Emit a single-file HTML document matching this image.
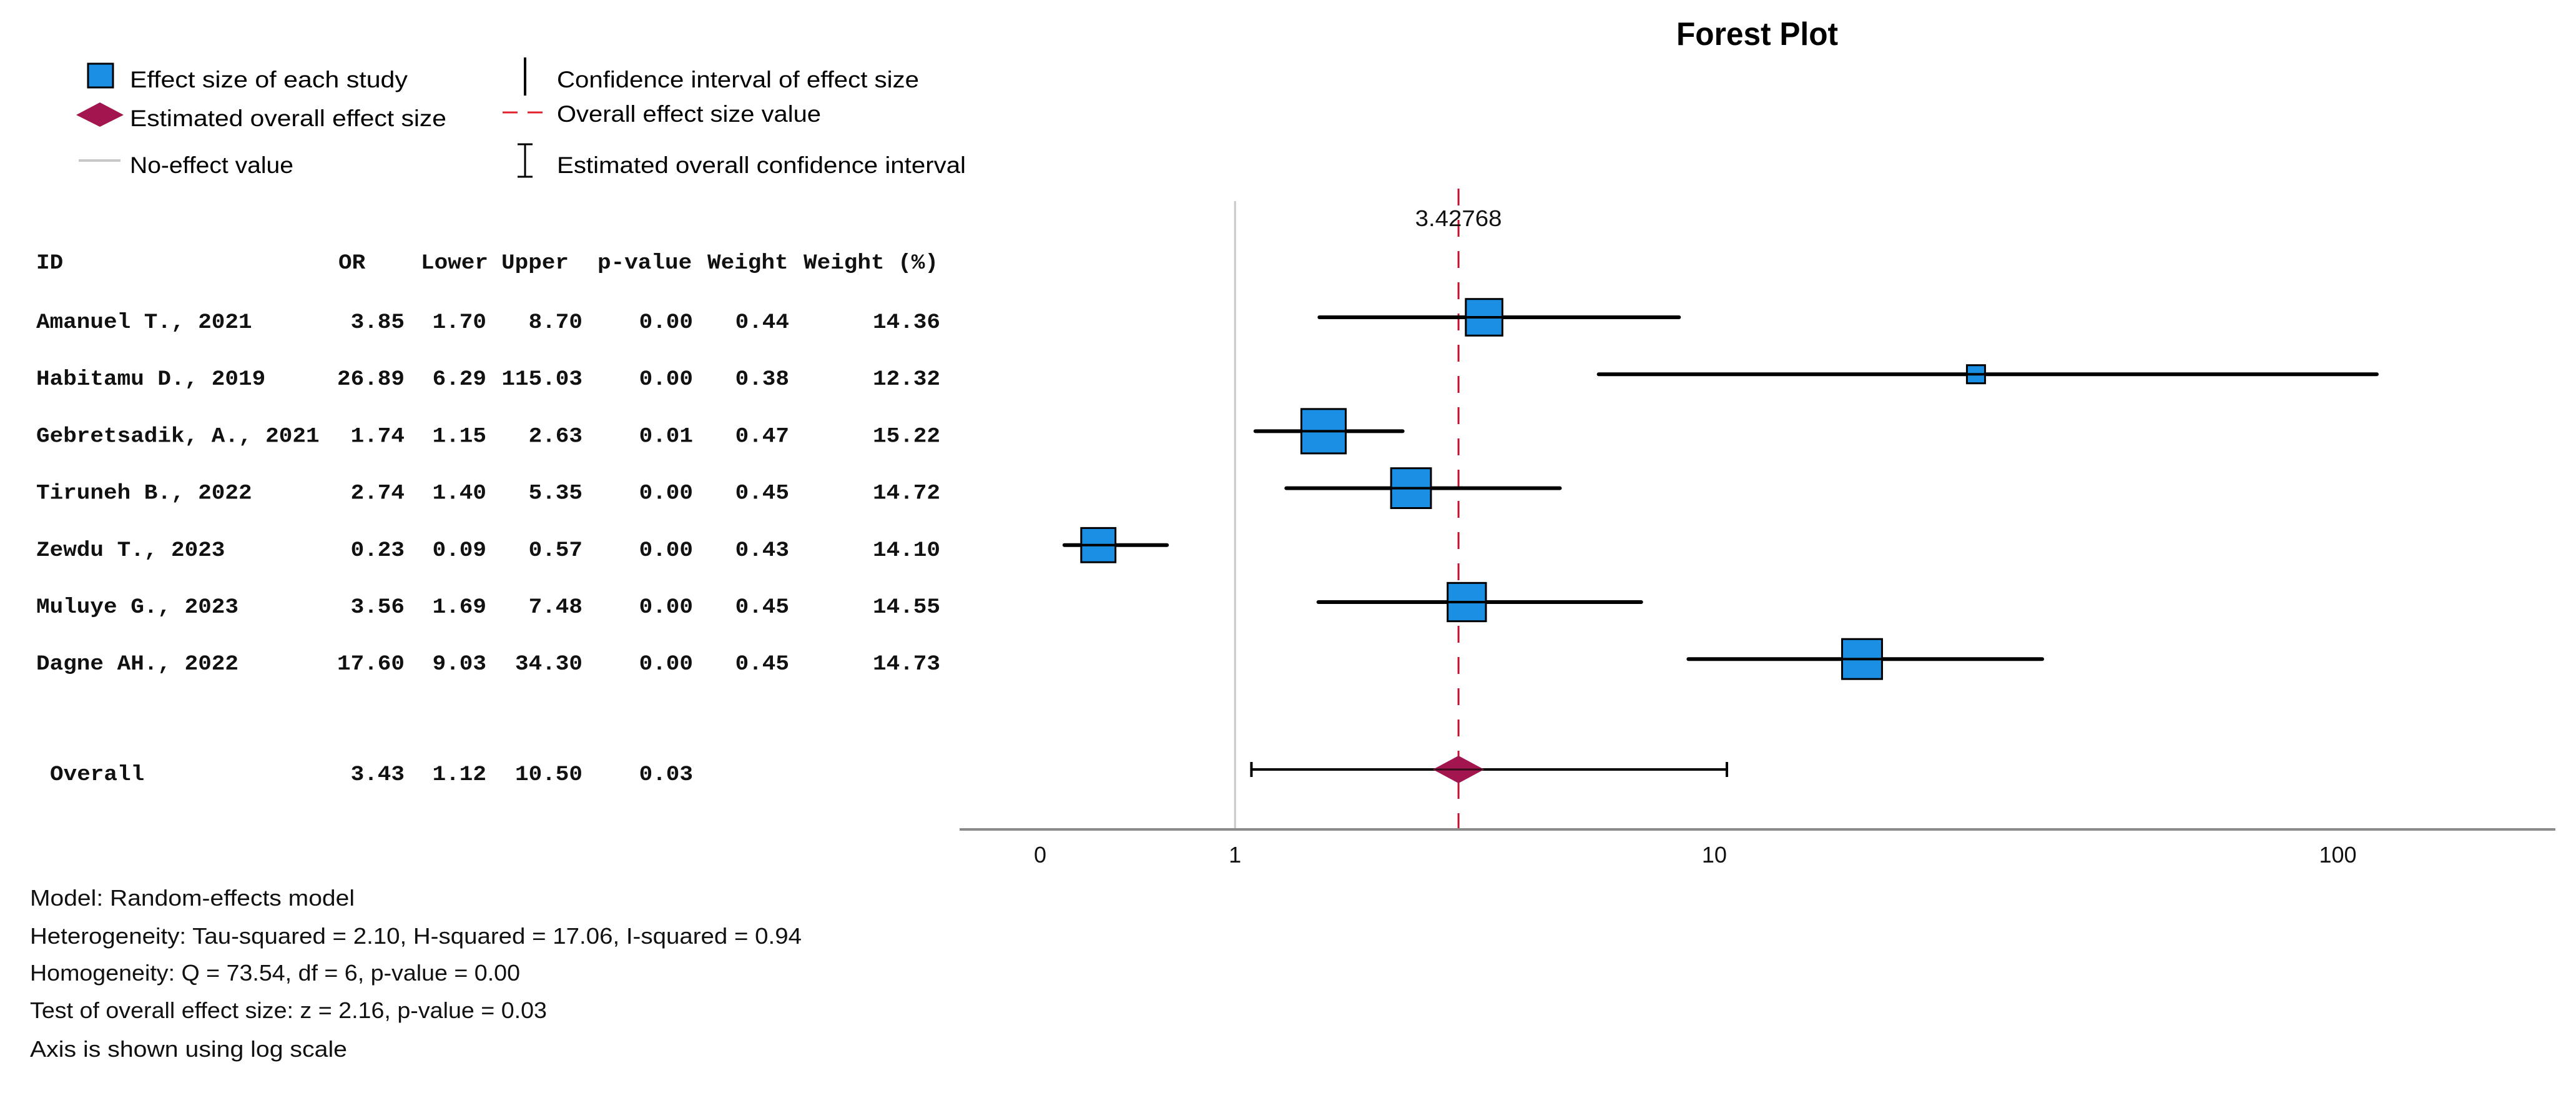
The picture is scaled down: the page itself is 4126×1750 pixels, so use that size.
<!DOCTYPE html>
<html><head><meta charset="utf-8"><style>
html,body{margin:0;padding:0;background:#fff;}
svg{display:block;}
.sans{font-family:"Liberation Sans",sans-serif;}
.mono{font-family:"Liberation Mono",monospace;font-size:34px;fill:#111;font-weight:bold;}
</style></head><body>
<svg id="chart" width="4126" height="1750" viewBox="0 0 4126 1750" xmlns="http://www.w3.org/2000/svg">
<rect x="0" y="0" width="4126" height="1750" fill="#fff"/>
<text class="sans" x="2685" y="72" font-size="52" font-weight="bold" textLength="259" lengthAdjust="spacingAndGlyphs">Forest Plot</text>

<g class="sans" font-size="37">
  <g>
    <rect x="141" y="102" width="40" height="38" fill="#1a8fe3" stroke="#000" stroke-width="3"/>
    <text x="208" y="140" textLength="445" lengthAdjust="spacingAndGlyphs">Effect size of each study</text>
  </g>
  <g>
    <polygon points="122,184 160,164 198,184 160,203" fill="#a3154e"/>
    <text x="208" y="202" textLength="507" lengthAdjust="spacingAndGlyphs">Estimated overall effect size</text>
  </g>
  <g>
    <line x1="126" y1="257" x2="193" y2="257" stroke="#c8c8c8" stroke-width="4"/>
    <text x="208" y="277" textLength="262" lengthAdjust="spacingAndGlyphs">No-effect value</text>
  </g>
  <g>
    <line x1="841" y1="92" x2="841" y2="153" stroke="#000" stroke-width="4"/>
    <text x="892" y="140" textLength="580" lengthAdjust="spacingAndGlyphs">Confidence interval of effect size</text>
  </g>
  <g>
    <line x1="805" y1="180" x2="874" y2="180" stroke="#e0202a" stroke-width="3" stroke-dasharray="24,16"/>
    <text x="892" y="195" textLength="423" lengthAdjust="spacingAndGlyphs">Overall effect size value</text>
  </g>
  <g>
    <line x1="841" y1="231" x2="841" y2="283" stroke="#000" stroke-width="3"/>
    <line x1="829" y1="231" x2="853" y2="231" stroke="#000" stroke-width="3"/>
    <line x1="829" y1="283" x2="853" y2="283" stroke="#000" stroke-width="3"/>
    <text x="892" y="277" textLength="655" lengthAdjust="spacingAndGlyphs">Estimated overall confidence interval</text>
  </g>
</g>

<g id="table"></g>
<g id="plot"></g>

<g class="sans" font-size="36" fill="#111">
  <text x="48" y="1450" textLength="520" lengthAdjust="spacingAndGlyphs">Model: Random-effects model</text>
  <text x="48" y="1511" textLength="1236" lengthAdjust="spacingAndGlyphs">Heterogeneity: Tau-squared = 2.10, H-squared = 17.06, I-squared = 0.94</text>
  <text x="48" y="1570" textLength="785" lengthAdjust="spacingAndGlyphs">Homogeneity: Q = 73.54, df = 6, p-value = 0.00</text>
  <text x="48" y="1630" textLength="828" lengthAdjust="spacingAndGlyphs">Test of overall effect size: z = 2.16, p-value = 0.03</text>
  <text x="48" y="1692" textLength="508" lengthAdjust="spacingAndGlyphs">Axis is shown using log scale</text>
</g>
</svg>
<script>
const studies = ["Amanuel T., 2021","Habitamu D., 2019","Gebretsadik, A., 2021","Tiruneh B., 2022","Zewdu T., 2023","Muluye G., 2023","Dagne AH., 2022"];
const orValues = [3.85, 26.89, 1.74, 2.74, 0.23, 3.56, 17.60];
const lowerValues = [1.70, 6.29, 1.15, 1.40, 0.09, 1.69, 9.03];
const upperValues = [8.70, 115.03, 2.63, 5.35, 0.57, 7.48, 34.30];
const pValues = [0.00, 0.00, 0.01, 0.00, 0.00, 0.00, 0.00];
const weights = [0.44, 0.38, 0.47, 0.45, 0.43, 0.45, 0.45];
const weightPct = [14.36, 12.32, 15.22, 14.72, 14.10, 14.55, 14.73];
const overallOR = 3.42768;
const overallLower = 1.12;
const overallUpper = 10.50;
const overallP = 0.03;
const tickValues = [0, 1, 10, 100];
const tickLabels = ["0", "1", "10", "100"];

const NS = "http://www.w3.org/2000/svg";
function mk(tag, attrs, parent){const e=document.createElementNS(NS,tag);for(const k in attrs)e.setAttribute(k,attrs[k]);parent.appendChild(e);return e;}
function xScale(v){return 1666 + 1037*Math.log10(1+v);}
function rowY(i){return 508 + i*91.2;}
const overallY = 1232;
function sizeOf(p){return 29 + (p-12.32)*14.5;}

const plot = document.getElementById('plot');
const table = document.getElementById('table');

const ax = mk('line',{x1:1537,y1:1328,x2:4093,y2:1328,stroke:'#8a8a8a','stroke-width':4},plot);


tickValues.forEach((v,i)=>{
  const t = mk('text',{x:xScale(v),y:1381,'font-size':36,'text-anchor':'middle','class':'sans',fill:'#111'},plot);
  
  
  t.textContent = tickLabels[i];
});
const ne = mk('line',{x1:xScale(1),y1:322,x2:xScale(1),y2:1326,stroke:'#c8c8c8','stroke-width':3},plot);


const ol = mk('line',{x1:xScale(overallOR),y1:302,x2:xScale(overallOR),y2:1326,stroke:'#c8102e','stroke-width':3,'stroke-dasharray':'27,23'},plot);


const olab = mk('text',{x:xScale(overallOR),y:362,'font-size':36,'text-anchor':'middle','class':'sans',fill:'#111',textLength:139,lengthAdjust:'spacingAndGlyphs'},plot);


olab.textContent = String(overallOR);

studies.forEach((s,i)=>{
  const y=rowY(i);
  const ci = mk('line',{x1:xScale(lowerValues[i]),y1:y,x2:xScale(upperValues[i]),y2:y,stroke:'#000','stroke-width':6,'stroke-linecap':'round'},plot);
  
  
  const sz=sizeOf(weightPct[i]);
  const sq = mk('rect',{x:xScale(orValues[i])-sz/2,y:y-sz/2,width:sz,height:sz,fill:'#1a8fe3',stroke:'#000','stroke-width':3},plot);
  
  
  mk('line',{x1:xScale(orValues[i])-sz/2,y1:y,x2:xScale(orValues[i])+sz/2,y2:y,stroke:'#000','stroke-width':4},plot);
});
const oc = mk('line',{x1:xScale(overallLower),y1:overallY,x2:xScale(overallUpper),y2:overallY,stroke:'#000','stroke-width':4},plot);


[overallLower,overallUpper].forEach(v=>{
  const c = mk('line',{x1:xScale(v),y1:overallY-12,x2:xScale(v),y2:overallY+12,stroke:'#000','stroke-width':4},plot);
  
  
});
const cx=xScale(overallOR);
const dm = mk('polygon',{points:`${cx-41},${overallY} ${cx},${overallY-22} ${cx+41},${overallY} ${cx},${overallY+22}`,fill:'#a3154e'},plot);


mk('line',{x1:cx-38,y1:overallY,x2:cx+38,y2:overallY,stroke:'#3a0a1c','stroke-width':3},plot);

const colEnds=[648,779,933,1110,1264,1506];
const headers=[["ID",58,'start'],["OR",542,'start'],["Lower",674,'start'],["Upper",803,'start'],["p-value",957,'start'],["Weight",1133,'start'],["Weight (%)",1287,'start']];
function txt(str,x,y,anchor,name){
  const t=mk('text',{x:x,y:y,'text-anchor':anchor,'class':'mono','textLength':str.length*21.6,'lengthAdjust':'spacingAndGlyphs'},table);
  
  
  t.textContent=str;
}
headers.forEach(h=>txt(h[0],h[1],430,h[2],'table-header'));
studies.forEach((s,i)=>{
  const y=rowY(i)+17;
  txt(s,58,y,'start','study-id');
  const vals=[orValues[i],lowerValues[i],upperValues[i],pValues[i],weights[i],weightPct[i]];
  vals.forEach((v,j)=>txt(v.toFixed(2),colEnds[j],y,'end','table-cell'));
});
txt("Overall",80,overallY+17,'start','overall-id');
[overallOR,overallLower,overallUpper,overallP].forEach((v,j)=>txt(v.toFixed(2),colEnds[j],overallY+17,'end','overall-cell'));
</script>
</body></html>
